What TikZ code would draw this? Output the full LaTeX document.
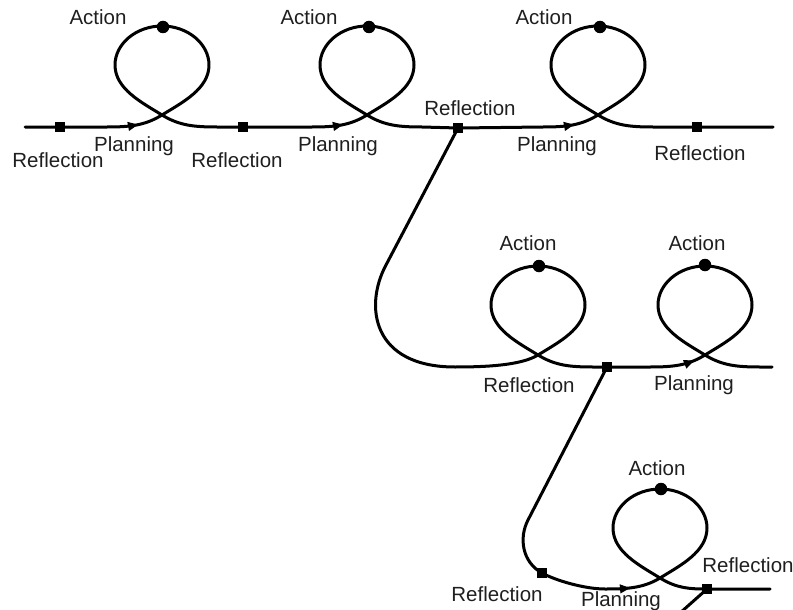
\documentclass[tikz,border=0pt]{standalone}
\usepackage{fontspec}
\setmainfont{Liberation Sans}
\usetikzlibrary{calc,arrows.meta}
\newcommand{\loopbody}[1]{.. controls ($(#1)+(20,-12.4)$) and ($(#1)+(47,-26)$) .. ($(#1)+(47,-50)$) .. controls ($(#1)+(47,-71)$) and ($(#1)+(26,-89)$) .. ($(#1)+(0,-89)$) .. controls ($(#1)+(-26,-89)$) and ($(#1)+(-47,-71)$) .. ($(#1)+(-47,-50)$) .. controls ($(#1)+(-47,-26)$) and ($(#1)+(-20,-12.4)$) .. (#1)}
\newcommand{\enterloop}[1]{-- ($(#1)+(-55,12)$) .. controls ($(#1)+(-32,12)$) and ($(#1)+(-17,10.5)$) .. (#1)}
\newcommand{\leaveloop}[1]{.. controls ($(#1)+(17,10.5)$) and ($(#1)+(32,12)$) .. ($(#1)+(55,12)$)}
\begin{document}
\begin{tikzpicture}[x=1pt,y=-1pt,
  curve/.style={line width=3pt, line cap=round, line join=round},
  sq/.style={fill=black, rectangle, minimum size=10.5pt, inner sep=0pt},
  dot/.style={fill=black, circle, minimum size=12.5pt, inner sep=0pt},
  lbl/.style={font=\fontsize{20.5}{24}\selectfont, text=black!88, anchor=base, inner sep=0pt},
  tipmark/.style={-{Triangle[length=10pt,width=9pt]}, line width=1pt}]
\useasboundingbox (0,0) rectangle (793,610);
\clip (0,0) rectangle (793,610);
% crossings of the loops
\coordinate (C1) at (162,115);
\coordinate (C2) at (367,115);
\coordinate (C3) at (598,115);
\coordinate (C4) at (538,355);
\coordinate (C5) at (705,355);
\coordinate (C6) at (660,578);
% reflection points and path points
\coordinate (s1) at (25,127);
\coordinate (r1) at (60,127);
\coordinate (r2) at (243,127);
\coordinate (j1) at (458,128);
\coordinate (r4) at (697,127);
\coordinate (e1) at (773,127);
\coordinate (b1) at (386,265);
\coordinate (b2) at (455,367);
\coordinate (j2) at (607,367);
\coordinate (e2) at (772,367);
\coordinate (b3) at (528,520);
\coordinate (r6) at (542,573);
\coordinate (b4) at (605,589);
\coordinate (j3) at (707,589);
\coordinate (e3) at (770,589);
\coordinate (tail) at (680,613);
% row 1
\draw[curve] (s1) -- (r1) \enterloop{C1} \loopbody{C1} \leaveloop{C1} -- (r2)
  \enterloop{C2} \loopbody{C2} \leaveloop{C2} -- (j1)
  \enterloop{C3} \loopbody{C3} \leaveloop{C3} -- (r4) -- (e1);
% row 2
\draw[curve] (j1) -- (b1) .. controls (364,306) and (372,367) .. (b2)
  .. controls (485,367) and ($(C4)+(-17,10.5)$) .. (C4) \loopbody{C4} \leaveloop{C4} -- (j2)
  \enterloop{C5} \loopbody{C5} \leaveloop{C5} -- (e2);
% row 3
\draw[curve] (j2) -- (b3) .. controls (518.8,537.8) and (522,562) .. (r6)
  .. controls (556,580.7) and (585,589) .. (b4)
  .. controls (625,589) and ($(C6)+(-17,10.5)$) .. (C6) \loopbody{C6}
  .. controls ($(C6)+(17,10.5)$) and ($(C6)+(30,11)$) .. (j3) -- (e3);
\draw[curve] (j3) -- (tail);
% arrowheads (planning)
\draw[tipmark] ($(C1)+(-31,10.9)$) -- ($(C1)+(-24,9.6)$);
\draw[tipmark] ($(C2)+(-31,10.9)$) -- ($(C2)+(-24,9.6)$);
\draw[tipmark] ($(C3)+(-31,10.9)$) -- ($(C3)+(-24,9.6)$);
\draw[tipmark] ($(C5)+(-17,8)$) -- ($(C5)+(-11,5.6)$);
\draw[tipmark] ($(C6)+(-38,10.7)$) -- ($(C6)+(-30,10)$);
% reflection squares
\node[sq] (R1) at (r1) {};
\node[sq] (R2) at (r2) {};
\node[sq] (J1) at (j1) {};
\node[sq] (R4) at (r4) {};
\node[sq] (J2) at (j2) {};
\node[sq] (R6) at (r6) {};
\node[sq] (J3) at (j3) {};
% action dots
\node[dot] (A1) at ($(C1)+(1,-88)$) {};
\node[dot] (A2) at ($(C2)+(2,-88)$) {};
\node[dot] (A3) at ($(C3)+(2,-88)$) {};
\node[dot] (A4) at ($(C4)+(1,-89)$) {};
\node[dot] (A5) at ($(C5)+(0,-90)$) {};
\node[dot] (A6) at ($(C6)+(1,-89)$) {};
% labels
\node[lbl] (tA1) at (98,25) {Action};
\node[lbl] (tA2) at (309,25) {Action};
\node[lbl] (tA3) at (544,25) {Action};
\node[lbl] (tR1) at (58,167) {Reflection};
\node[lbl] (tP1) at (134,151) {Planning};
\node[lbl] (tR2) at (237,167) {Reflection};
\node[lbl] (tP2) at (338,151) {Planning};
\node[lbl] (tR3) at (470,115) {Reflection};
\node[lbl] (tP3) at (557,151) {Planning};
\node[lbl] (tR4) at (700,160) {Reflection};
\node[lbl] (tA4) at (528,250) {Action};
\node[lbl] (tA5) at (697,250) {Action};
\node[lbl] (tR5) at (529,392) {Reflection};
\node[lbl] (tP5) at (694,390) {Planning};
\node[lbl] (tA6) at (657,475) {Action};
\node[lbl] (tR6) at (748,572) {Reflection};
\node[lbl] (tR7) at (497,601) {Reflection};
\node[lbl] (tP6) at (621,606) {Planning};
\end{tikzpicture}
\end{document}
